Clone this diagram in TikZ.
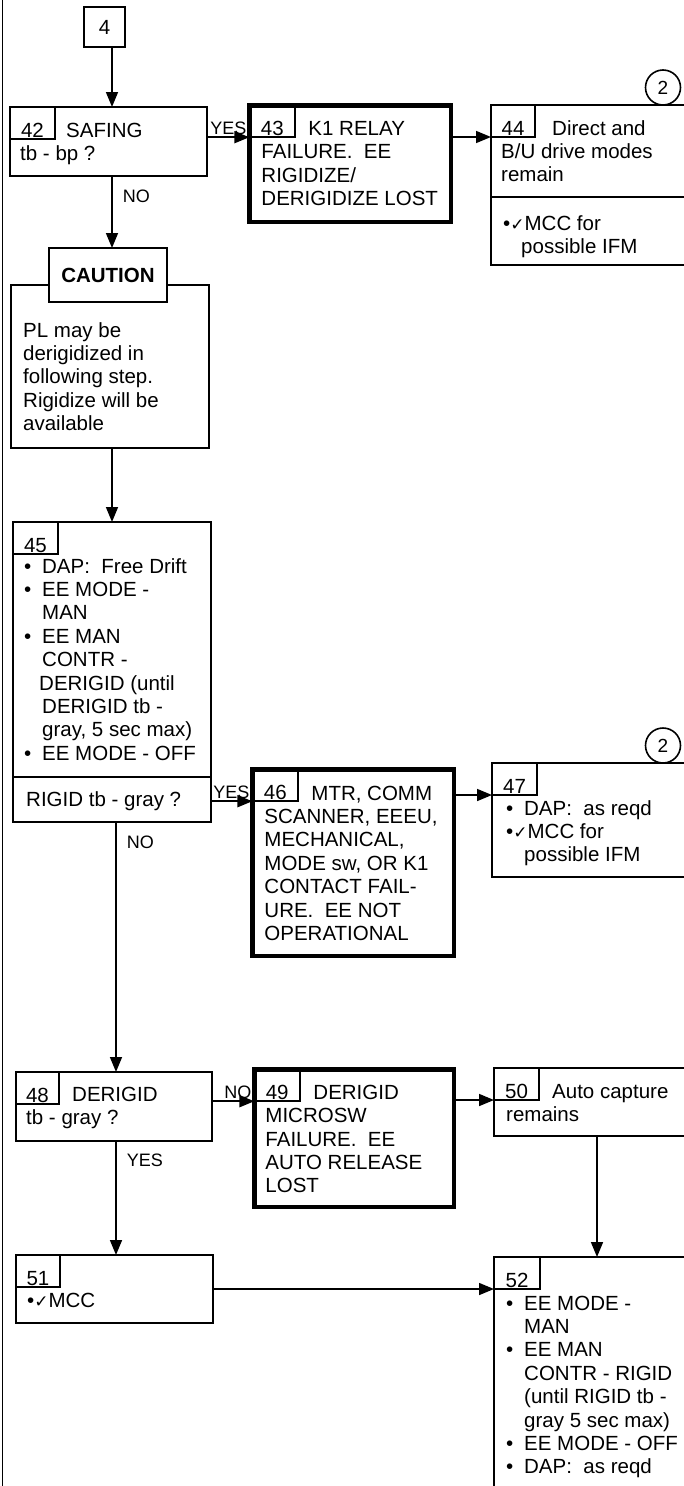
\documentclass[tikz,border=0pt]{standalone}
\usepackage{fontspec}
\setmainfont{Liberation Sans}
\newfontfamily\symfont{DejaVu Sans}
\usepackage{tikz}
\usetikzlibrary{arrows.meta}

\newcommand{\bodyfont}{\fontsize{20.5pt}{23.4pt}\selectfont}
\newcommand{\itm}{\makebox[18pt][l]{\textbullet}}
\newcommand{\hng}{\hspace*{18pt}}
\newcommand{\chkmark}{{\symfont\fontsize{17pt}{17pt}\selectfont ✓}}

\tikzset{
  stepbox/.style={draw, line width=1.6pt, anchor=north west, inner sep=0pt, outer sep=0pt},
  failbox/.style={stepbox, line width=4.5pt},
  numbox/.style={draw, line width=1.6pt, anchor=north west, inner sep=0pt, outer sep=0pt,
    minimum width=45pt, minimum height=32pt, text height=28pt, text depth=0pt, font=\bodyfont},
  txt/.style={anchor=north west, inner sep=0pt, align=left, font=\bodyfont},
  lbl/.style={inner sep=2pt, font=\fontsize{18pt}{20pt}\selectfont},
  conn/.style={line width=1.6pt},
  arr/.style={conn, -{Triangle[length=15pt,width=12pt]}},
  onpage/.style={draw, circle, line width=1.6pt, inner sep=0pt, outer sep=0pt,
    minimum size=35pt, anchor=south, font=\fontsize{19pt}{19pt}\selectfont}
}

\begin{document}
\begin{tikzpicture}[x=1pt, y=-1pt]
  \useasboundingbox (0,0) rectangle (684,1486);
  \clip (0,0) rectangle (684,1486);
  % frame line
  \draw[line width=1.5pt] (2.5,0) -- (2.5,1486);
  % flow columns
  \coordinate (colA) at (112,0);
  \coordinate (colB) at (116,0);
  \coordinate (colC) at (597,0);

  % entry
  \node[stepbox, minimum width=41pt, minimum height=40pt, font=\bodyfont] (b4) at (84,7) {4};

  % 42 - 44
  \node[stepbox, minimum width=197pt, minimum height=69pt] (b42) at (10,107) {};
  \node[numbox] (n42) at (b42.north west) {42};
  \node[txt] (t42) at ([shift={(10,13.6)}]b42.north west) {\strut\hspace*{46pt}SAFING\\tb - bp ?};

  \node[failbox, minimum width=201.5pt, minimum height=116.5pt] (b43) at (249.25,105.25) {};
  \node[numbox, minimum width=46pt] (n43) at (b43.north west) {43};
  \node[txt] (t43) at ([shift={(12,13.4)}]b43.north west)
    {\strut\hspace*{47pt}K1 RELAY\\FAILURE.~ EE\\RIGIDIZE/\\DERIGIDIZE LOST};

  \node[stepbox, minimum width=209pt, minimum height=160pt] (b44) at (491,105) {};
  \node[numbox, minimum width=44pt] (n44) at (b44.north west) {44};
  \node[txt] (t44) at ([shift={(10,13.6)}]b44.north west)
    {\strut\hspace*{51pt}Direct and\\B/U drive modes\\remain};
  \draw[conn] ([shift={(0,92)}]b44.north west) -- ([shift={(0,92)}]b44.north east);
  \node[txt] (t44b) at ([shift={(12,108.6)}]b44.north west)
    {\strut\textbullet\chkmark MCC for\\\hng possible IFM};
  \node[onpage] (c44) at ([shift={(172,0)}]b44.north west) {2};

  \draw[arr] (b4.south -| colA) -- (b42.north -| colA);
  \draw[arr] (b42.east |- n43.south west) -- (n43.south west)
    node[lbl, pos=1, anchor=south east] {YES};
  \draw[arr] (b43.east |- n44.south west) -- (n44.south west);

  % caution
  \node[stepbox, minimum width=198pt, minimum height=163pt] (cbody) at (11,285) {};
  \node[txt] (tcb) at ([shift={(12,35.6)}]cbody.north west)
    {\strut PL may be\\derigidized in\\following step.\\Rigidize will be\\available};
  \node[stepbox, fill=white, line width=2.5pt, minimum width=118pt, minimum height=54pt,
    font=\bodyfont\bfseries] (cap) at (49,248) {CAUTION};
  \draw[arr] (b42.south -| colA) -- (cap.north -| colA)
    node[lbl, pos=0.28, anchor=west, xshift=8pt] {NO};

  % 45 - 47
  \node[stepbox, minimum width=198pt, minimum height=300pt] (b45) at (13,522) {};
  \node[numbox, line width=2.4pt] (n45) at (b45.north west) {45};
  \node[txt] (t45) at ([shift={(11,34.6)}]b45.north west)
    {\strut\itm DAP:~~Free Drift\\
     \itm EE MODE -\\
     \hng MAN\\
     \itm EE MAN\\
     \hng CONTR -\\
     \hspace*{15pt}DERIGID (until\\
     \hng DERIGID tb -\\
     \hng gray, 5 sec max)\\
     \itm EE MODE - OFF};
  \draw[conn] ([shift={(0,255)}]b45.north west) -- ([shift={(0,255)}]b45.north east);
  \node[txt] (t45b) at ([shift={(13,267.6)}]b45.north west) {\strut RIGID tb - gray ?};
  \draw[arr] (cbody.south -| colA) -- (b45.north -| colA);

  \node[failbox, minimum width=201.5pt, minimum height=186.5pt] (b46) at (252.25,769.25) {};
  \node[numbox, minimum width=46pt] (n46) at (b46.north west) {46};
  \node[txt] (t46) at ([shift={(12,14.3)}]b46.north west)
    {\strut\hspace*{47pt}MTR, COMM\\SCANNER, EEEU,\\MECHANICAL,\\MODE sw, OR K1\\CONTACT FAIL-\\URE.~ EE NOT\\OPERATIONAL};

  \node[stepbox, minimum width=208pt, minimum height=114pt] (b47) at (492,763) {};
  \node[numbox] (n47) at (b47.north west) {47};
  \node[txt] (t47) at ([shift={(14,35.6)}]b47.north west)
    {\strut\itm DAP:~~as reqd\\\textbullet\chkmark MCC for\\\hng possible IFM};
  \node[onpage] (c47) at ([shift={(171,0)}]b47.north west) {2};

  \draw[arr] (b45.east |- n46.south west) -- (n46.south west)
    node[lbl, pos=1, anchor=south east] {YES};
  \draw[arr] (b46.east |- n47.south west) -- (n47.south west);

  % 48 - 50
  \node[stepbox, minimum width=196pt, minimum height=69pt] (b48) at (16,1072) {};
  \node[numbox, minimum width=43pt] (n48) at (b48.north west) {48};
  \node[txt] (t48) at ([shift={(10,12.6)}]b48.north west) {\strut\hspace*{46pt}DERIGID\\tb - gray ?};

  \node[failbox, minimum width=199.5pt, minimum height=137.5pt] (b49) at (254.25,1069.25) {};
  \node[numbox, minimum width=46pt] (n49) at (b49.north west) {49};
  \node[txt] (t49) at ([shift={(11,13.4)}]b49.north west)
    {\strut\hspace*{48pt}DERIGID\\MICROSW\\FAILURE.~ EE\\AUTO RELEASE\\LOST};

  \node[stepbox, minimum width=206pt, minimum height=68pt] (b50) at (494,1068) {};
  \node[numbox] (n50) at (b50.north west) {50};
  \node[txt] (t50) at ([shift={(12,13.6)}]b50.north west) {\strut\hspace*{46pt}Auto capture\\remains};

  \draw[arr] (b45.south -| colB) -- (b48.north -| colB)
    node[lbl, pos=0.08, anchor=west, xshift=8pt] {NO};
  \draw[arr] (b48.east |- n49.south west) -- (n49.south west)
    node[lbl, pos=1, anchor=south east] {NO};
  \draw[arr] (b49.east |- n50.south west) -- (n50.south west);

  % 51 - 52
  \node[stepbox, minimum width=197pt, minimum height=68pt] (b51) at (16,1255) {};
  \node[numbox, minimum width=44pt] (n51) at (b51.north west) {51};
  \node[txt] (t51) at ([shift={(11,35.6)}]b51.north west) {\strut\textbullet\chkmark MCC};

  \node[stepbox, minimum width=206pt, minimum height=250pt] (b52) at (494,1257) {};
  \node[numbox, minimum width=46pt] (n52) at (b52.north west) {52};
  \node[txt] (t52) at ([shift={(12,36.6)}]b52.north west)
    {\strut\itm EE MODE -\\
     \hng MAN\\
     \itm EE MAN\\
     \hng CONTR - RIGID\\
     \hng (until RIGID tb -\\
     \hng gray 5 sec max)\\
     \itm EE MODE - OFF\\
     \itm DAP:~~as reqd};

  \draw[arr] (b48.south -| colB) -- (b51.north -| colB)
    node[lbl, pos=0.17, anchor=west, xshift=8pt] {YES};
  \draw[arr] (b50.south -| colC) -- (b52.north -| colC);
  \draw[arr] (b51.east |- n52.south west) -- (n52.south west);
\end{tikzpicture}
\end{document}
